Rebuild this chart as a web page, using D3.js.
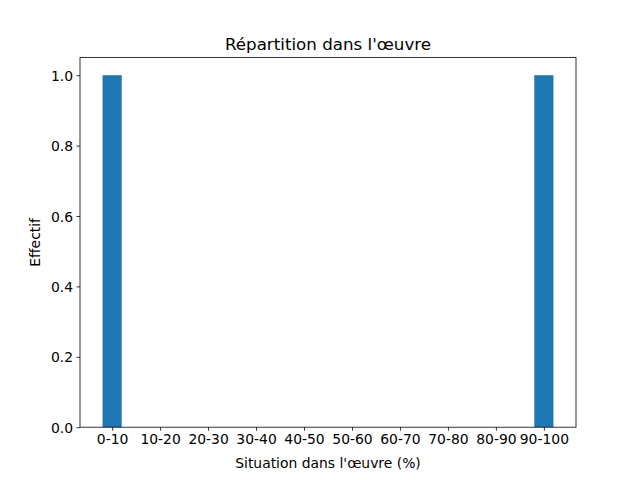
<!DOCTYPE html>
<html>
<head>
<meta charset="utf-8">
<script src="https://cdn.jsdelivr.net/npm/d3@7"></script>
<style>
  html, body { margin: 0; padding: 0; background: #fff; overflow: hidden; }
  svg { display: block; font-family: "DejaVu Sans", sans-serif; }
</style>
</head>
<body>
<div id="chart"></div>
<script>
const categories = ["0-10", "10-20", "20-30", "30-40", "40-50", "50-60", "60-70", "70-80", "80-90", "90-100"];
const counts = [1, 0, 0, 0, 0, 0, 0, 0, 0, 1];
const yTicks = [0, 0.2, 0.4, 0.6, 0.8, 1.0];

const width = 640, height = 480;
const margin = { top: 57.6, right: 64, bottom: 52.8, left: 80 };
const barWidth = 0.4;

const svg = d3.select("#chart")
    .append("svg")
    .attr("width", width)
    .attr("height", height);

const innerWidth = width - margin.left - margin.right;
const innerHeight = height - margin.top - margin.bottom;

const g = svg.append("g")
    .attr("transform", `translate(${margin.left},${margin.top})`);

// same 5% padding as matplotlib autoscale
const lo = -barWidth / 2, hi = categories.length - 1 + barWidth / 2;
const pad = (hi - lo) * 0.05;

const x = d3.scaleLinear()
    .domain([lo - pad, hi + pad])
    .range([0, innerWidth]);

const y = d3.scaleLinear()
    .domain([0, d3.max(counts) * 1.05])
    .range([innerHeight, 0]);

// bars
g.selectAll("rect")
    .data(counts)
    .enter()
    .append("rect")
    .attr("x", (d, i) => x(i - barWidth / 2))
    .attr("y", (d) => y(d))
    .attr("width", x(barWidth) - x(0))
    .attr("height", (d) => innerHeight - y(d))
    .attr("fill", "#1f77b4");

// axes
const xAxis = g.append("g")
    .attr("transform", `translate(0,${innerHeight})`)
    .call(d3.axisBottom(x)
        .tickValues(d3.range(categories.length))
        .tickFormat((d) => categories[d])
        .tickSize(3.5)
        .tickPadding(3.5));

const yAxis = g.append("g")
    .call(d3.axisLeft(y)
        .tickValues(yTicks)
        .tickFormat(d3.format(".1f"))
        .tickSize(3.5)
        .tickPadding(3.5));

[xAxis, yAxis].forEach((ax) => {
    ax.attr("font-size", null).attr("font-family", null);
    ax.select(".domain").remove();
    ax.selectAll("line").attr("stroke", "#000").attr("stroke-width", 0.8);
    ax.selectAll("text").attr("font-size", "13.9px").attr("fill", "#000");
});
// pixel offsets instead of em
xAxis.selectAll("text").attr("dy", null).attr("y", 17);
yAxis.selectAll("text").attr("dy", null).attr("y", 5);

// frame
g.append("rect")
    .attr("width", innerWidth)
    .attr("height", innerHeight)
    .attr("fill", "none")
    .attr("stroke", "#000")
    .attr("stroke-width", 0.8);

// labels
svg.append("text")
    .attr("x", margin.left + innerWidth / 2)
    .attr("y", margin.top - 8)
    .attr("text-anchor", "middle")
    .attr("font-size", "16.7px")
    .text("Répartition dans l'œuvre");

svg.append("text")
    .attr("x", margin.left + innerWidth / 2)
    .attr("y", 468)
    .attr("text-anchor", "middle")
    .attr("font-size", "13.9px")
    .text("Situation dans l'œuvre (%)");

svg.append("text")
    .attr("transform", `translate(40,${margin.top + innerHeight / 2}) rotate(-90)`)
    .attr("text-anchor", "middle")
    .attr("font-size", "13.9px")
    .text("Effectif");
</script>
</body>
</html>
